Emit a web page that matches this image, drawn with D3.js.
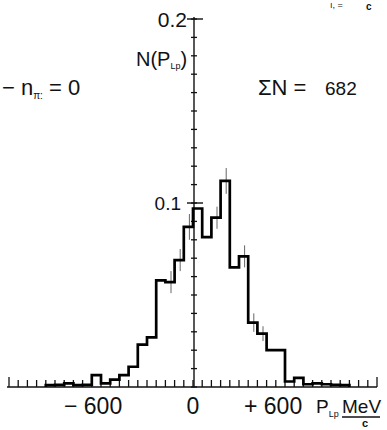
<!DOCTYPE html>
<html>
<head>
<meta charset="utf-8">
<script src="https://cdn.jsdelivr.net/npm/d3@7"></script>
<style>
  body { margin: 0; background: #fff; }
  svg text { font-family: "Liberation Sans", Arial, sans-serif; fill: #111; }
</style>
</head>
<body>
<div id="chart"></div>
<script>
// bin lower edges (MeV/c), bin width 60
const binLo = [-960, -900, -840, -780, -720, -660, -600, -540, -480, -420, -360, -300,
  -240, -180, -120, -60, 0, 60, 120, 180, 240, 300, 360, 420, 480, 540,
  600, 660, 720, 780, 840, 900, 960];
// normalised counts N(P_Lp) per bin
const binVal = [0.001, 0.0012, 0.002, 0.001, 0.0012, 0.0065, 0.002, 0.004, 0.0065, 0.011, 0.023, 0.027,
  0.058, 0.057, 0.069, 0.087, 0.097, 0.0815, 0.092, 0.112, 0.065, 0.071, 0.035, 0.029, 0.020, 0.020,
  0.003, 0.005, 0.0015, 0.002, 0.0015, 0.0012, 0.001];
// thin error marks (half length) on the central bins
const errBins = [-180, -120, -60, 120, 180, 300, 360, 420];
const errHalf = [0.006, 0.006, 0.007, 0.006, 0.007, 0.006, 0.005, 0.004];

const xTicks = d3.range(-1200, 1201, 60);
const yMinor = d3.range(0, 0.2001, 0.01);
const yMajor = [0.1, 0.2];
const binWidth = 60;

const W = 387, H = 430;
const svg = d3.select("#chart").append("svg")
  .attr("width", W)
  .attr("height", H);

const x = d3.scaleLinear().domain([-1200, 1200]).range([9, 377]);
const y = d3.scaleLinear().domain([0, 0.2]).range([387, 19]);

// x axis: baseline with small upward ticks
svg.append("line")
  .attr("x1", 7).attr("x2", 377)
  .attr("y1", y(0)).attr("y2", y(0))
  .attr("stroke", "#111").attr("stroke-width", 1.6);
svg.append("g").selectAll("line")
  .data(xTicks)
  .enter().append("line")
  .attr("x1", d => x(d)).attr("x2", d => x(d))
  .attr("y1", y(0))
  .attr("y2", d => Math.abs(d) === 1200 ? y(0) - 10 : y(0) - 7)
  .attr("stroke", "#111").attr("stroke-width", 1.3);

// y axis
const x0 = x(0) + 1;
svg.append("line")
  .attr("x1", x0).attr("x2", x0)
  .attr("y1", y(0.2) - 2).attr("y2", y(0))
  .attr("stroke", "#111").attr("stroke-width", 1.4);
svg.append("g").selectAll("line")
  .data(yMinor)
  .enter().append("line")
  .attr("x1", x0 - 3).attr("x2", x0 + 3)
  .attr("y1", d => y(d)).attr("y2", d => y(d))
  .attr("stroke", "#111").attr("stroke-width", 1.3);
svg.append("g").selectAll("line")
  .data(yMajor)
  .enter().append("line")
  .attr("x1", x0 - 7).attr("x2", x0 + 9)
  .attr("y1", d => y(d)).attr("y2", d => y(d))
  .attr("stroke", "#111").attr("stroke-width", 1.4);

// error marks
svg.append("g").selectAll("line")
  .data(errBins)
  .enter().append("line")
  .attr("x1", d => x(d + binWidth / 2) + 1)
  .attr("x2", d => x(d + binWidth / 2) + 1)
  .attr("y1", (d, i) => y(binVal[binLo.indexOf(d)] + errHalf[i]))
  .attr("y2", (d, i) => y(binVal[binLo.indexOf(d)] - errHalf[i]))
  .attr("stroke", "#555").attr("stroke-width", 0.9);

// histogram
const pts = [[binLo[0], 0]].concat(binLo.map((d, i) => [d, binVal[i]]));
pts.push([binLo[binLo.length - 1] + binWidth, 0]);
svg.append("path")
  .datum(pts)
  .attr("fill", "none")
  .attr("stroke", "#000")
  .attr("stroke-width", 2.7)
  .attr("stroke-linejoin", "miter")
  .attr("d", d3.line()
    .x(d => x(d[0]))
    .y(d => y(d[1]))
    .curve(d3.curveStepAfter));

// y tick labels
svg.append("text").attr("x", 187).attr("y", 27)
  .attr("text-anchor", "end").attr("font-size", 21).text("0.2");
svg.append("text").attr("x", 181).attr("y", 210)
  .attr("text-anchor", "end").attr("font-size", 19).text("0.1");

// y title N(P_Lp)
const yt = svg.append("text").attr("x", 136).attr("y", 66).attr("font-size", 20);
yt.append("tspan").text("N(P");
yt.append("tspan").attr("font-size", 9).attr("dy", 3).text("Lp");
yt.append("tspan").attr("dy", -3).text(")");

// x tick labels
svg.append("text").attr("x", 64).attr("y", 414).attr("font-size", 23).text("− 600");
svg.append("text").attr("x", x(0)).attr("y", 414)
  .attr("text-anchor", "middle").attr("font-size", 23).text("0");
svg.append("text").attr("x", 244).attr("y", 414).attr("font-size", 23).text("+ 600");

// x title P_Lp MeV/c
const xt = svg.append("text").attr("x", 316).attr("y", 413).attr("font-size", 19);
xt.append("tspan").text("P");
xt.append("tspan").attr("font-size", 9).attr("dy", 4).text("Lp");
svg.append("text").attr("x", 342).attr("y", 413).attr("font-size", 19).text("MeV");
svg.append("line").attr("x1", 342).attr("x2", 380).attr("y1", 417).attr("y2", 417)
  .attr("stroke", "#111").attr("stroke-width", 1.5);
svg.append("text").attr("x", 362).attr("y", 427).attr("font-size", 11)
  .attr("font-weight", "bold").text("c");

// annotations
const nt = svg.append("text").attr("x", 2).attr("y", 95).attr("font-size", 22);
nt.append("tspan").text("− n");
nt.append("tspan").attr("font-size", 10).attr("dy", 4).text("π:");
nt.append("tspan").attr("dy", -4).text(" = 0");

svg.append("text").attr("x", 258).attr("y", 95).attr("font-size", 22).text("ΣN =");
svg.append("text").attr("x", 325).attr("y", 95).attr("font-size", 19).text("682");

// fragment of the line above, at the top edge
svg.append("text").attr("x", 330).attr("y", 8).attr("font-size", 9).text("ı,  =");
svg.append("text").attr("x", 366).attr("y", 10).attr("font-size", 10)
  .attr("font-weight", "bold").text("c");
</script>
</body>
</html>
